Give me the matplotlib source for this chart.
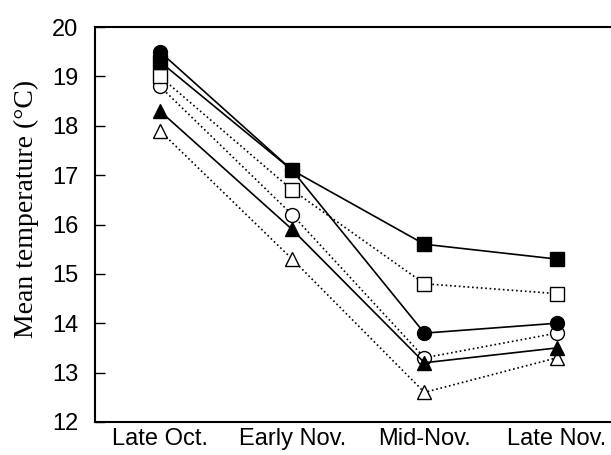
import numpy as np
import matplotlib.pyplot as plt

periods = ["Late Oct.", "Early Nov.", "Mid-Nov.", "Late Nov."]

filled_circle = [19.5, 17.1, 13.8, 14.0]
filled_square = [19.3, 17.1, 15.6, 15.3]
open_square = [19.0, 16.7, 14.8, 14.6]
open_circle = [18.8, 16.2, 13.3, 13.8]
filled_triangle = [18.3, 15.9, 13.2, 13.5]
open_triangle = [17.9, 15.3, 12.6, 13.3]

series = [
    (open_triangle, "^", "white", ":"),
    (open_circle, "o", "white", ":"),
    (open_square, "s", "white", ":"),
    (filled_triangle, "^", "black", "-"),
    (filled_circle, "o", "black", "-"),
    (filled_square, "s", "black", "-"),
]

fig = plt.figure(figsize=(6.11, 4.55), dpi=100)
ax = fig.add_axes([95 / 611, 1 - 422 / 455, 516 / 611, 395 / 455])

x = np.arange(len(periods))
for vals, mk, fc, ls in series:
    ax.plot(x, vals, linestyle=ls, color="black", linewidth=1.2,
            marker=mk, markersize=10, markerfacecolor=fc,
            markeredgecolor="black", markeredgewidth=1.0, clip_on=False)

ax.set_xlim(-0.49, 3.41)
ax.set_ylim(12, 20)
ax.set_yticks(range(12, 21))
ax.set_xticks(x)
ax.set_xticklabels(periods, fontfamily="Liberation Sans", fontsize=17)
ax.tick_params(axis="x", length=0, pad=4)
ax.tick_params(axis="y", direction="in", length=7, width=1, labelsize=17,
               pad=12)
for lab in ax.get_yticklabels():
    lab.set_fontfamily("Liberation Sans")
ax.spines["right"].set_visible(False)
for s in ["left", "top", "bottom"]:
    ax.spines[s].set_linewidth(1.5)
ax.set_ylabel("Mean temperature (°C)", fontfamily="Liberation Serif",
              fontsize=20, labelpad=4)
ax.yaxis.set_label_coords(-0.109, 0.54)

fig.savefig("out.png", dpi=100)
